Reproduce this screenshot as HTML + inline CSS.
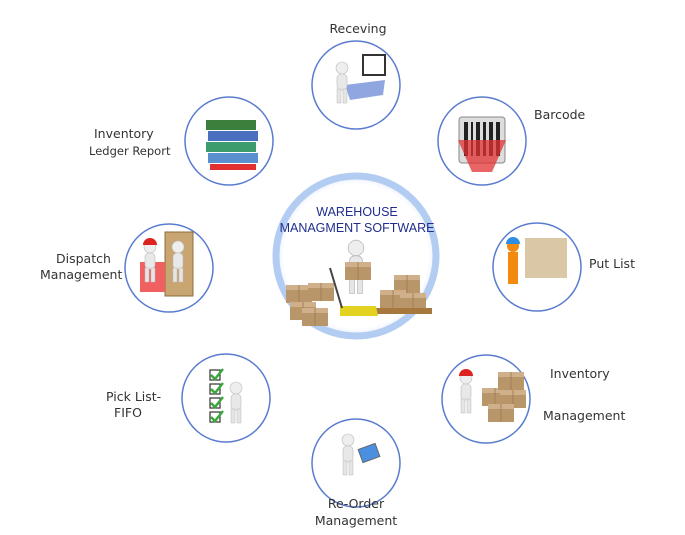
<!DOCTYPE html>
<html><head><meta charset="utf-8"><style>
html,body{margin:0;padding:0;background:#fff;width:685px;height:535px;overflow:hidden}
svg{display:block}
text{font-family:"DejaVu Sans","Liberation Sans",sans-serif;font-size:12.5px;fill:#333}
</style></head><body>
<svg width="685" height="535" viewBox="0 0 685 535">
<defs>
<radialGradient id="cg" cx="50%" cy="50%" r="50%">
<stop offset="90%" stop-color="#fff"/><stop offset="100%" stop-color="#e6eefb"/>
</radialGradient>
<g id="box"><rect width="26" height="18" fill="#b8966a"/><rect y="0" width="26" height="5" fill="#cfb08a"/><line x1="13" y1="0" x2="13" y2="18" stroke="#9c7a50" stroke-width="0.8"/></g>
<g id="man"><circle cx="0" cy="0" r="6" fill="#eee" stroke="#bbb" stroke-width=".6"/><rect x="-5" y="6" width="10" height="16" rx="4" fill="#e8e8e8" stroke="#bbb" stroke-width=".6"/><rect x="-5" y="21" width="4" height="14" fill="#e5e5e5" stroke="#bbb" stroke-width=".5"/><rect x="1" y="21" width="4" height="14" fill="#e5e5e5" stroke="#bbb" stroke-width=".5"/></g>
</defs>

<circle cx="356" cy="256" r="80" fill="url(#cg)" stroke="#b3ccf2" stroke-width="7"/>
<text x="357" y="216" text-anchor="middle" style="font-size:12.5px;fill:#1f2d8c;font-family:'Liberation Sans',sans-serif">WAREHOUSE</text>
<text x="357" y="232" text-anchor="middle" style="font-size:12.5px;fill:#1f2d8c;font-family:'Liberation Sans',sans-serif">MANAGMENT SOFTWARE</text>
<use href="#box" x="286" y="285"/><use href="#box" x="308" y="283"/><use href="#box" x="290" y="302"/><use href="#box" x="302" y="308"/>
<use href="#box" x="394" y="275"/><use href="#box" x="380" y="290"/><use href="#box" x="400" y="293"/>
<rect x="376" y="308" width="56" height="6" fill="#a7783d"/>
<polygon points="340,306 376,306 378,316 340,316" fill="#e3d21f"/>
<line x1="330" y1="268" x2="342" y2="308" stroke="#444" stroke-width="2"/>
<g transform="translate(356,248) scale(1.3)"><use href="#man"/></g>
<use href="#box" x="345" y="262"/>

<g fill="#fff" stroke="#5a7ccf" stroke-width="1.5">
<circle cx="356" cy="85" r="44"/>
<circle cx="482" cy="141" r="44"/>
<circle cx="537" cy="267" r="44"/>
<circle cx="486" cy="399" r="44"/>
<circle cx="356" cy="463" r="44"/>
<circle cx="226" cy="398" r="44"/>
<circle cx="169" cy="268" r="44"/>
<circle cx="229" cy="141" r="44"/>
</g>

<rect x="363" y="55" width="22" height="20" fill="#fff" stroke="#333" stroke-width="2"/>
<polygon points="345,85 385,80 383,95 350,100" fill="#8fa6e0"/>
<g transform="translate(342,68)"><use href="#man"/></g>
<rect x="459" y="117" width="46" height="46" rx="3" fill="#ddd" stroke="#888"/>
<g fill="#222"><rect x="464" y="122" width="4" height="34"/><rect x="471" y="122" width="2" height="34"/><rect x="476" y="122" width="4" height="34"/><rect x="483" y="122" width="3" height="34"/><rect x="489" y="122" width="4" height="34"/><rect x="496" y="122" width="4" height="34"/></g>
<polygon points="458,140 506,140 492,172 472,172" fill="#e23030" opacity=".75"/>
<rect x="525" y="238" width="42" height="40" fill="#d9c7a5"/>
<g transform="translate(513,246)"><circle r="6" fill="#f28a10"/><rect x="-5" y="6" width="10" height="18" fill="#f28a10"/><rect x="-5" y="24" width="10" height="14" fill="#f28a10"/><path d="M-7 -2 A7 7 0 0 1 7 -2 Z" fill="#2b8ee0"/></g>
<use href="#box" x="482" y="388"/><use href="#box" x="498" y="372"/><use href="#box" x="500" y="390"/><use href="#box" x="488" y="404"/>
<g transform="translate(466,378)"><use href="#man"/><path d="M-7 -2 A7 7 0 0 1 7 -2 Z" fill="#d22"/></g>
<g transform="translate(348,440)"><use href="#man"/></g>
<rect x="360" y="446" width="18" height="14" fill="#4a8fe0" stroke="#666" transform="rotate(-20 369 453)"/>
<g stroke="#333" fill="#fff" stroke-width="1.2"><rect x="210" y="370" width="10" height="10"/><rect x="210" y="384" width="10" height="10"/><rect x="210" y="398" width="10" height="10"/><rect x="210" y="412" width="10" height="10"/></g>
<g stroke="#3aa83a" stroke-width="2.5" fill="none"><path d="M211 375l4 4 8-10"/><path d="M211 389l4 4 8-10"/><path d="M211 403l4 4 8-10"/><path d="M211 417l4 4 8-10"/></g>
<g transform="translate(236,388)"><use href="#man"/></g>
<rect x="165" y="232" width="28" height="64" fill="#c9a572" stroke="#8d6c3c"/>
<rect x="140" y="262" width="25" height="30" fill="#f06060"/>
<g transform="translate(150,247)"><use href="#man"/><path d="M-7 -2 A7 7 0 0 1 7 -2 Z" fill="#d22"/></g>
<g transform="translate(178,247)"><use href="#man"/></g>
<g><rect x="206" y="120" width="50" height="10" fill="#3c7f3c"/><rect x="208" y="131" width="50" height="10" fill="#4a6fbf"/><rect x="206" y="142" width="50" height="10" fill="#3c9c6c"/><rect x="208" y="153" width="50" height="10" fill="#5a8fd0"/><rect x="210" y="164" width="46" height="6" fill="#e23030"/></g>

<text x="358" y="33" text-anchor="middle">Receving</text>
<text x="534" y="119">Barcode</text>
<text x="589" y="268">Put List</text>
<text x="550" y="378">Inventory</text>
<text x="543" y="420">Management</text>
<text x="356" y="508" text-anchor="middle">Re-Order</text>
<text x="356" y="525" text-anchor="middle">Management</text>
<text x="106" y="401">Pick List-</text>
<text x="114" y="417">FIFO</text>
<text x="56" y="263">Dispatch</text>
<text x="40" y="279">Management</text>
<text x="94" y="138">Inventory</text>
<text x="89" y="155" style="font-size:11.5px">Ledger Report</text>
</svg>
</body></html>
